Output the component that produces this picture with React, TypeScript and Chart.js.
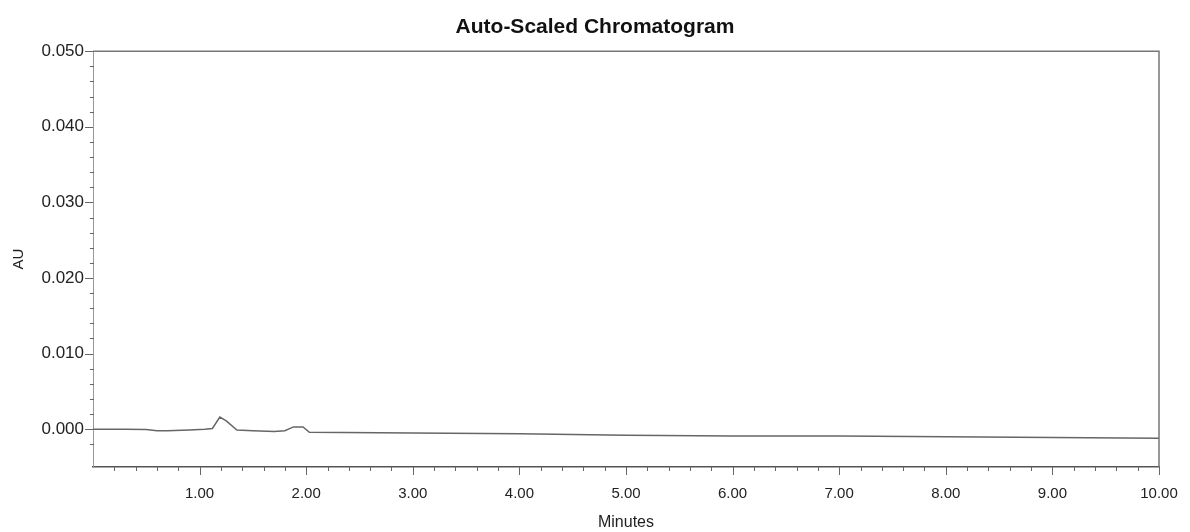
import React, { useEffect, useRef } from "react";
import { Chart, registerables } from "chart.js";

Chart.register(...registerables);

const times = [0, 0.3, 0.5, 0.6, 0.7, 0.9, 1.05, 1.12, 1.19, 1.25, 1.35, 1.5, 1.7, 1.8, 1.88, 1.97, 2.03, 3.0, 4.0, 5.0, 6.0, 7.0, 8.0, 9.0, 10.0];
const absorbance = [0, -0.00002, -0.00005, -0.0002, -0.0002, -0.0001, 0.0, 0.0001, 0.0016, 0.0011, -0.0001, -0.0002, -0.0003, -0.0002, 0.0003, 0.0003, -0.0004, -0.0005, -0.0006, -0.0008, -0.0009, -0.0009, -0.001, -0.0011, -0.0012];

const X_MIN = 0;
const X_MAX = 10;
const Y_MIN = -0.005;
const Y_MAX = 0.05;
const X_STEP = 0.2;
const Y_STEP = 0.002;

const isMult = (v: number, m: number) => Math.abs(v / m - Math.round(v / m)) < 1e-6;

const frameAndTicks = {
  id: "frameAndTicks",
  afterDraw(chart: any) {
    const { ctx, chartArea, scales } = chart;
    const { left, right, top, bottom } = chartArea;
    ctx.save();
    ctx.strokeStyle = "#777";
    ctx.lineWidth = 1.5;
    ctx.beginPath();
    ctx.moveTo(left, top);
    ctx.lineTo(right, top);
    ctx.lineTo(right, bottom);
    ctx.stroke();
    ctx.strokeStyle = "#666";
    ctx.lineWidth = 1;
    const xs = scales.x;
    xs.ticks.forEach((t: any) => {
      const v = t.value;
      if (Math.abs(v - X_MIN) < 1e-9) return;
      const px = Math.round(xs.getPixelForValue(v)) + 0.5;
      const len = isMult(v, 1) ? 8 : 4;
      ctx.beginPath();
      ctx.moveTo(px, bottom);
      ctx.lineTo(px, bottom + len);
      ctx.stroke();
    });
    const ys = scales.y;
    ys.ticks.forEach((t: any) => {
      const v = t.value;
      if (Math.abs(v - Y_MIN) < 1e-9) return;
      const py = Math.round(ys.getPixelForValue(v)) + 0.5;
      const major = isMult(v, 0.01);
      ctx.beginPath();
      ctx.moveTo(left - (major ? 8 : 3), py);
      ctx.lineTo(left + (major ? 0 : 1), py);
      ctx.stroke();
    });
    ctx.restore();
  },
};

export default function App() {
  const ref = useRef<HTMLCanvasElement | null>(null);
  useEffect(() => {
    if (!ref.current) return;
    const chart = new Chart(ref.current, {
      type: "line",
      data: {
        datasets: [
          {
            data: times.map((t, i) => ({ x: t, y: absorbance[i] })),
            borderColor: "#666",
            borderWidth: 1.5,
            pointRadius: 0,
            tension: 0,
            fill: false,
          },
        ],
      },
      options: {
        animation: false,
        responsive: false,
        maintainAspectRatio: false,
        layout: { padding: 0 },
        plugins: {
          legend: { display: false },
          tooltip: { enabled: false },
          title: {
            display: true,
            text: "Auto-Scaled Chromatogram",
            color: "#111",
            font: { family: "Liberation Sans", size: 21, weight: "bold", lineHeight: 1.2 },
            padding: { top: 15, bottom: 11 },
          },
        },
        scales: {
          x: {
            type: "linear",
            min: X_MIN,
            max: X_MAX,
            afterFit: (s: any) => {
              s.height = 65;
            },
            ticks: {
              stepSize: X_STEP,
              autoSkip: false,
              maxRotation: 0,
              padding: 3,
              color: "#222",
              font: { family: "Liberation Sans", size: 15 },
              callback: (v: any) => {
                const n = Number(v);
                return isMult(n, 1) && n > 0 ? n.toFixed(2) : "";
              },
            },
            grid: { display: true, drawOnChartArea: false, drawTicks: true, tickLength: 15, tickColor: "rgba(0,0,0,0)" },
            border: { display: true, color: "#555", width: 1.5 },
            title: {
              display: true,
              text: "Minutes",
              color: "#222",
              font: { family: "Liberation Sans", size: 16, lineHeight: 1.2 },
              padding: { top: 0, bottom: 0 },
            },
          },
          y: {
            type: "linear",
            min: Y_MIN,
            max: Y_MAX,
            afterFit: (s: any) => {
              s.width = 93;
            },
            ticks: {
              stepSize: Y_STEP,
              autoSkip: false,
              padding: 9,
              color: "#222",
              font: { family: "Liberation Sans", size: 17 },
              callback: (v: any) => {
                const n = Number(v);
                return isMult(n, 0.01) ? n.toFixed(3) : "";
              },
            },
            grid: { display: true, drawOnChartArea: false, drawTicks: false },
            border: { display: true, color: "#999", width: 1 },
            title: {
              display: true,
              text: "AU",
              color: "#222",
              font: { family: "Liberation Sans", size: 15, lineHeight: 1.2 },
              padding: { top: 10, bottom: 0 },
            },
          },
          yRight: {
            type: "linear",
            position: "right",
            min: Y_MIN,
            max: Y_MAX,
            afterFit: (s: any) => {
              s.width = 31;
            },
            ticks: { display: false },
            grid: { display: false, drawTicks: false },
            border: { display: false },
          },
        },
      },
      plugins: [frameAndTicks],
    });
    return () => chart.destroy();
  }, []);
  return (
    <div style={{ position: "fixed", left: 0, top: 0, width: 1190, height: 532, background: "#fff" }}>
      <canvas ref={ref} width={1190} height={532} style={{ display: "block" }} />
    </div>
  );
}
